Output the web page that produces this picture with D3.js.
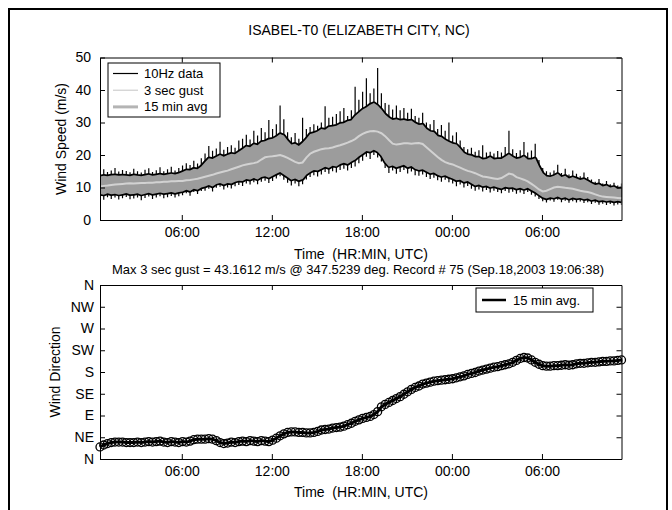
<!DOCTYPE html>
<html>
<head>
<meta charset="utf-8">
<script src="https://cdn.jsdelivr.net/npm/d3@7"></script>
<style>
body { margin: 0; background: #fff; }
text { font-family: "Liberation Sans", Arial, sans-serif; fill: #000; }
</style>
</head>
<body>
<div id="chart"></div>
<script>
// 15 minute records, Sep.18 2003 00:33 UTC onward
startTime = Date.UTC(2003, 8, 18, 0, 33)

// wind speed, m/s
max10Hz = [14.5,15.6,14.8,15.2,16.0,14.9,15.4,15.1,14.7,15.8,
  15.0,14.6,15.5,15.9,14.8,15.3,16.2,15.0,15.6,16.4,15.2,16.0,
  16.8,17.5,16.9,18.2,17.4,19.0,
  20.5,22.8,21.3,22.0,24.1,21.6,22.5,23.0,22.2,24.5,
  25.0,26.2,24.8,27.5,26.0,28.3,27.0,30.8,
  28.0,29.5,35.2,31.0,
  27.0,25.5,26.8,25.0,31.5,
  28.0,28.6,29.5,29.0,
  30.0,35.0,31.5,31.8,32.6,33.5,34.5,32.0,33.8,41.0,
  37.0,39.5,43.6,39.0,40.5,46.8,39.0,36.0,
  35.5,34.0,35.2,33.8,34.5,33.0,34.2,32.0,
  31.5,33.0,30.0,29.5,30.8,28.0,29.2,27.5,30.0,
  26.0,27.0,24.5,22.5,21.8,22.2,
  21.0,21.5,23.0,20.8,21.0,20.5,21.2,
  20.8,22.5,27.5,21.8,20.6,21.5,24.0,20.8,21.4,23.5,
  18.5,16.0,15.0,14.6,
  15.2,17.0,14.5,15.8,14.0,15.2,14.2,13.5,14.6,13.2,
  12.5,11.8,12.6,11.2,12.0,11.0,11.5,10.6,11.2]

min10Hz = [6.8,6.2,7.0,6.5,6.9,6.3,6.7,7.1,6.4,6.6,6.9,6.1,6.8,7.2,6.5,6.9,7.3,6.7,7.0,7.4,6.9,7.3,
  7.6,8.2,7.5,8.6,8.0,8.9,
  9.0,9.6,8.8,9.9,10.2,9.4,10.0,9.7,10.4,10.8,
  10.5,11.2,10.9,11.6,11.0,11.8,12.1,11.4,
  12.0,12.8,13.5,12.4,
  11.5,10.6,11.2,10.4,11.0,
  12.5,13.2,13.8,13.4,
  14.0,14.8,14.2,15.0,14.6,15.4,15.8,15.2,16.0,16.5,
  17.5,18.2,19.5,18.8,20.0,19.2,18.0,16.0,
  14.5,15.2,14.2,14.8,15.4,14.3,14.9,13.8,
  13.6,14.0,13.2,12.6,13.0,12.2,11.8,12.4,11.6,
  11.2,10.4,10.9,10.0,10.5,9.6,
  9.0,9.4,8.8,9.2,8.5,9.0,8.6,
  8.2,8.9,8.4,8.7,8.1,8.5,8.0,8.6,7.8,7.2,
  6.5,5.8,5.4,6.0,
  5.6,6.2,5.5,5.9,5.3,5.8,5.4,5.7,5.2,5.5,
  4.9,5.3,4.7,5.0,4.6,4.9,4.5,4.8,4.6]

gustHigh = [13.4,13.6,13.5,13.7,13.8,13.6,13.7,13.6,13.5,13.8,13.6,13.5,13.7,13.9,13.6,13.8,14.0,13.8,14.0,14.2,14.0,14.3,
  14.8,15.3,15.2,15.8,15.6,16.5,
  17.8,19.0,18.8,19.4,20.0,19.5,20.0,20.4,20.2,21.0,
  21.8,22.6,22.4,23.3,23.0,24.0,24.2,24.8,
  25.0,25.6,26.5,26.0,
  24.5,23.2,23.5,22.8,23.8,
  25.0,26.5,26.8,27.2,
  28.0,27.8,28.6,28.8,29.0,29.6,29.8,30.4,30.6,32.0,
  33.0,34.0,34.6,35.5,36.0,35.2,34.0,32.5,
  31.5,30.8,31.0,30.6,30.8,30.5,30.6,29.8,
  29.2,29.4,28.0,27.2,27.0,25.8,25.5,24.6,24.0,
  23.5,23.2,22.0,20.6,20.0,19.8,
  19.2,19.2,18.6,18.8,19.4,18.6,18.8,
  18.8,19.5,20.2,19.4,18.8,19.0,19.6,18.6,18.6,19.0,
  16.5,14.4,13.4,13.2,
  13.6,14.2,13.2,13.6,12.8,13.2,12.8,12.3,12.6,12.0,
  11.3,10.8,11.0,10.3,10.6,10.0,10.2,9.6,9.8]

gustLow = [8.0,7.8,8.2,7.9,8.1,7.8,8.0,8.3,7.9,8.0,8.2,7.8,8.1,8.4,8.0,8.2,8.5,8.2,8.4,8.6,8.3,8.6,
  8.8,9.3,8.9,9.6,9.3,10.0,
  10.3,10.8,10.3,11.1,11.4,10.9,11.4,11.2,11.8,12.1,
  12.0,12.6,12.4,12.9,12.5,13.2,13.5,13.0,
  13.6,14.2,14.8,14.0,
  13.2,12.4,12.8,12.2,12.6,
  14.0,14.8,15.4,15.2,
  15.8,16.4,16.0,16.7,16.5,17.2,17.6,17.2,18.0,18.6,
  19.6,20.4,21.2,21.0,21.6,21.0,19.8,17.8,
  16.5,16.8,16.2,16.6,17.0,16.2,16.6,15.8,
  15.4,15.6,15.0,14.4,14.6,13.9,13.5,13.8,13.2,
  12.8,12.2,12.4,11.7,12.0,11.3,
  10.6,10.9,10.4,10.6,10.1,10.4,10.0,
  9.7,10.2,10.0,10.1,9.6,9.9,9.5,9.9,9.2,8.6,
  7.8,7.0,6.6,7.0,
  6.8,7.2,6.7,7.0,6.5,6.9,6.6,6.8,6.4,6.6,
  6.1,6.4,5.9,6.1,5.8,6.0,5.7,5.9,5.7]

avg15 = [10.3,10.5,10.6,10.8,10.9,11.0,11.1,11.2,11.3,11.2,
  11.3,11.4,11.4,11.5,11.5,11.6,11.6,11.8,11.8,11.9,11.9,12.0,
  12.0,12.2,12.3,12.5,12.7,13.0,13.3,13.6,13.9,14.3,14.6,14.9,15.2,15.6,16.0,16.4,
  16.8,17.1,17.3,17.5,17.8,18.6,19.3,19.5,19.6,19.8,20.0,19.6,
  19.1,18.5,17.9,17.5,17.7,19.2,20.4,21.0,21.4,21.8,22.0,22.1,
  22.3,22.7,23.0,23.4,23.8,24.3,24.9,25.8,26.5,27.0,27.3,27.4,
  27.2,26.7,25.8,24.6,23.5,23.2,23.4,23.6,23.6,23.5,23.6,23.7,
  23.4,22.4,21.4,20.4,19.4,18.5,17.8,17.4,17.1,16.6,16.1,15.6,
  15.1,14.8,14.4,13.9,13.4,13.2,13.0,12.8,12.6,12.9,13.6,14.3,
  14.0,13.2,12.8,12.4,11.9,11.1,10.3,9.4,8.8,9.0,9.5,10.0,
  10.2,10.1,9.9,9.8,9.6,9.3,9.0,8.8,8.6,8.3,7.9,7.5,
  7.2,7.1,7.0,6.9,6.8,6.7]

// wind direction, degrees from N
dir15 = [25,29,32,34,35,35,35,34,34,34,35,34,35,36,35,36,37,35,34,36,
  35,34,36,35,37,40,41,41,41,42,41,38,34,32,33,35,34,36,37,36,
  38,37,36,38,37,36,39,43,48,52,55,56,56,55,55,54,54,55,57,60,
  61,62,64,65,66,68,71,74,78,81,84,86,88,92,98,108,113,117,121,125,
  129,134,139,144,148,151,155,157,159,161,162,163,164,165,166,168,170,172,175,177,
  179,182,184,186,188,190,191,193,195,197,200,204,208,210,209,205,200,196,193,192,
  192,193,193,194,195,194,195,197,198,198,199,200,200,201,202,202,203,203,204,205]

speedTicks = [0, 10, 20, 30, 40, 50]
dirTicks = [0, 45, 90, 135, 180, 225, 270, 315, 360]
dirLabels = ['N', 'NE', 'E', 'SE', 'S', 'SW', 'W', 'NW', 'N']

times = avg15.map((d, i) => new Date(startTime + i * 15 * 60000))

svg = d3.select('#chart')
        .append('svg')
        .attr('width', 672)
        .attr('height', 510)

svg.append('rect')
   .attr('x', 9).attr('y', 9)
   .attr('width', 658).attr('height', 520)
   .attr('fill', 'none')
   .attr('stroke', '#000')
   .attr('stroke-width', 2)

plotLeft = 100
plotRight = 621.5

xScale = d3.scaleUtc()
           .domain([times[0], times[times.length - 1]])
           .range([plotLeft, plotRight])

timeFmt = d3.utcFormat('%H:%M')
timeTicks = d3.utcHour.every(6)

// ---------- top: wind speed ----------
ySpeed = d3.scaleLinear().domain([0, 50]).range([220, 57.5])

svg.append('clipPath').attr('id', 'clipTop')
   .append('rect').attr('x', plotLeft).attr('y', 57.5)
   .attr('width', plotRight - plotLeft).attr('height', 220 - 57.5)

speedGroup = svg.append('g').attr('clip-path', 'url(#clipTop)')

// 10Hz spread of each record, drawn as spikes
speedGroup.selectAll('line.hz')
   .data(times)
   .enter()
   .append('line')
   .attr('class', 'hz')
   .attr('x1', d => xScale(d)).attr('x2', d => xScale(d))
   .attr('y1', (d, i) => ySpeed(min10Hz[i]))
   .attr('y2', (d, i) => ySpeed(max10Hz[i]))
   .attr('stroke', '#000')
   .attr('stroke-width', 1.2)

gustArea = d3.area().x(d => xScale(d))
        .y0((d, i) => ySpeed(gustLow[i]))
        .y1((d, i) => ySpeed(gustHigh[i]))

// dense black fringe of the 10Hz data around the gust band
speedGroup.append('path')
   .datum(times)
   .attr('d', gustArea)
   .attr('fill', '#000')
   .attr('stroke', '#000')
   .attr('stroke-width', 3.5)
   .attr('stroke-linejoin', 'bevel')

speedGroup.append('path')
   .datum(times)
   .attr('d', gustArea)
   .attr('fill', '#9c9c9c')

speedGroup.append('path')
   .datum(times)
   .attr('d', d3.line().x(d => xScale(d)).y((d, i) => ySpeed(avg15[i])))
   .attr('fill', 'none')
   .attr('stroke', '#d2d2d2')
   .attr('stroke-width', 2)

function drawFrame(yScale, yTicks, yFmt, y0, y1, pad) {
    var g = svg.append('g')
    g.append('g')
     .attr('transform', `translate(0,${y0})`)
     .call(d3.axisBottom(xScale).ticks(timeTicks).tickFormat(timeFmt)
           .tickSizeInner(-5).tickSizeOuter(0).tickPadding(7))
    g.append('g')
     .attr('transform', `translate(0,${y1})`)
     .call(d3.axisTop(xScale).ticks(timeTicks).tickFormat('')
           .tickSizeInner(-5).tickSizeOuter(0))
    g.append('g')
     .attr('transform', `translate(${plotLeft},0)`)
     .call(d3.axisLeft(yScale).tickValues(yTicks).tickFormat(yFmt)
           .tickSizeInner(-5).tickSizeOuter(0).tickPadding(pad))
    g.append('g')
     .attr('transform', `translate(${plotRight},0)`)
     .call(d3.axisRight(yScale).tickValues(yTicks).tickFormat('')
           .tickSizeInner(-5).tickSizeOuter(0))
    g.selectAll('.domain').attr('stroke', '#000')
    g.selectAll('.tick line').attr('stroke', '#000')
    g.selectAll('.tick text').attr('font-size', 14)
     .attr('font-family', '"Liberation Sans", Arial, sans-serif')
    return g
}

drawFrame(ySpeed, speedTicks, d3.format('d'), 220, 57.5, 9)

// legend, top
lg = svg.append('g')
lg.append('rect').attr('x', 108).attr('y', 63).attr('width', 112).attr('height', 54)
  .attr('fill', '#fff').attr('stroke', '#000')
legendItems = [
    {name: '10Hz data', color: '#000', w: 1.2},
    {name: '3 sec gust', color: '#c4c4c4', w: 1},
    {name: '15 min avg', color: '#b4b4b4', w: 3}
]
legendItems.forEach(function(d, i) {
    var yy = 73.5 + i * 16.7
    lg.append('line').attr('x1', 113).attr('x2', 138).attr('y1', yy).attr('y2', yy)
      .attr('stroke', d.color).attr('stroke-width', d.w)
    lg.append('text').attr('x', 144).attr('y', yy + 4.5).attr('font-size', 13).text(d.name)
})

svg.append('text')
   .attr('x', 359).attr('y', 35)
   .attr('text-anchor', 'middle').attr('font-size', 14)
   .text('ISABEL-T0 (ELIZABETH CITY, NC)')

svg.append('text')
   .attr('transform', 'rotate(-90)')
   .attr('x', -139).attr('y', 66)
   .attr('text-anchor', 'middle').attr('font-size', 14)
   .text('Wind Speed (m/s)')

svg.append('text')
   .attr('x', 361).attr('y', 259)
   .attr('text-anchor', 'middle').attr('font-size', 14)
   .attr('xml:space', 'preserve')
   .text('Time  (HR:MIN, UTC)')

svg.append('text')
   .attr('x', 358).attr('y', 274)
   .attr('text-anchor', 'middle').attr('font-size', 13)
   .text('Max 3 sec gust = 43.1612 m/s @ 347.5239 deg. Record # 75 (Sep.18,2003 19:06:38)')

// ---------- bottom: wind direction ----------
yDir = d3.scaleLinear().domain([0, 360]).range([459, 285])

dirGroup = svg.append('g')

dirGroup.append('path')
      .datum(times)
      .attr('d', d3.line().x(d => xScale(d)).y((d, i) => yDir(dir15[i])))
      .attr('fill', 'none')
      .attr('stroke', '#000')
      .attr('stroke-width', 3)

dirGroup.selectAll('circle')
      .data(times)
      .enter()
      .append('circle')
      .attr('cx', d => xScale(d))
      .attr('cy', (d, i) => yDir(dir15[i]))
      .attr('r', 4)
      .attr('fill', 'none')
      .attr('stroke', '#000')
      .attr('stroke-width', 1.3)

drawFrame(yDir, dirTicks, (d, i) => dirLabels[i], 459, 285, 6)

lg2 = svg.append('g')
lg2.append('rect').attr('x', 476).attr('y', 288).attr('width', 117).attr('height', 24)
   .attr('fill', '#fff').attr('stroke', '#000')
lg2.append('line').attr('x1', 482).attr('x2', 506).attr('y1', 300).attr('y2', 300)
   .attr('stroke', '#000').attr('stroke-width', 2.5)
lg2.append('text').attr('x', 513).attr('y', 304.5).attr('font-size', 13).text('15 min avg.')

svg.append('text')
   .attr('transform', 'rotate(-90)')
   .attr('x', -372).attr('y', 60)
   .attr('text-anchor', 'middle').attr('font-size', 14)
   .text('Wind Direction')

svg.append('text')
   .attr('x', 361).attr('y', 497)
   .attr('text-anchor', 'middle').attr('font-size', 14)
   .attr('xml:space', 'preserve')
   .text('Time  (HR:MIN, UTC)')
</script>
</body>
</html>
